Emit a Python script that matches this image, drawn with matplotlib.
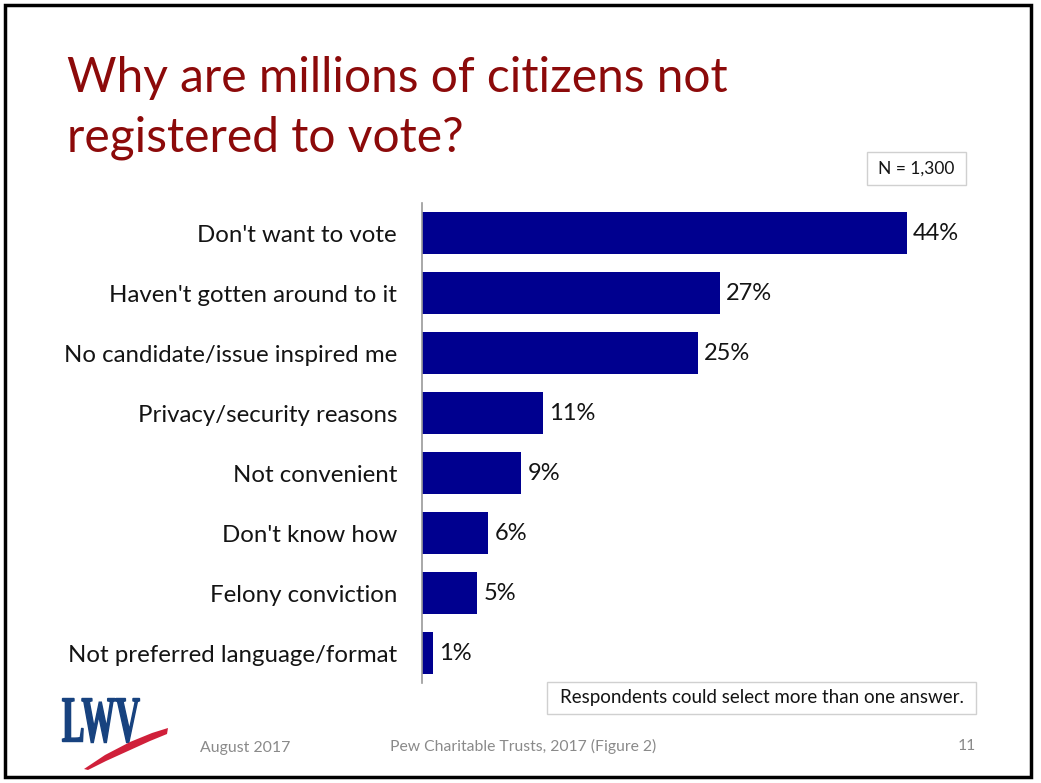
import matplotlib
matplotlib.use("Agg")
import matplotlib.pyplot as plt
from matplotlib.patches import Rectangle, Polygon, PathPatch
from matplotlib.textpath import TextPath
from matplotlib.font_manager import FontProperties
from matplotlib.transforms import Affine2D, IdentityTransform

categories = [
    "Don't want to vote",
    "Haven't gotten around to it",
    "No candidate/issue inspired me",
    "Privacy/security reasons",
    "Not convenient",
    "Don't know how",
    "Felony conviction",
    "Not preferred language/format",
]
values = [44, 27, 25, 11, 9, 6, 5, 1]

title_lines = ["Why are millions of citizens not", "registered to vote?"]
sample_note = "N = 1,300"
multi_note = "Respondents could select more than one answer."
footer_date = "August 2017"
footer_source = "Pew Charitable Trusts, 2017 (Figure 2)"
page_number = "11"

W, H = 1041, 783
FONT = "Lato"
BAR_COLOR = "#00008f"
TITLE_COLOR = "#8c0a0a"
FOOT_COLOR = "#8a8a8a"
TEXT_COLOR = "#141414"
LOGO_BLUE = "#17427f"

fig = plt.figure(figsize=(W / 100, H / 100), dpi=100)
fig.patch.set_facecolor("white")


def fx(px):
    return px / W


def fy(py):
    return 1 - py / H


# slide frame
fig.add_artist(Rectangle((fx(5), fy(777)), fx(1031) - fx(5), fy(5) - fy(777),
                         transform=fig.transFigure, fill=False,
                         edgecolor="black", linewidth=2.5))

# title, one line per baseline
for line, base in zip(title_lines, [92, 152]):
    fig.text(fx(67), fy(base), line, color=TITLE_COLOR, fontsize=34.5,
             family=FONT, va="baseline", ha="left")

# bar chart
px_per_unit = 11.02
ax_left, ax_right = 422, 1000
ax_top, ax_bottom = 203, 683
ax = fig.add_axes([fx(ax_left), fy(ax_bottom), fx(ax_right) - fx(ax_left),
                   fy(ax_top) - fy(ax_bottom)])
n = len(categories)
ypos = list(range(n))
ax.barh(ypos, values, height=0.7, color=BAR_COLOR)
ax.set_xlim(0, (ax_right - ax_left) / px_per_unit)
ax.set_ylim(n - 0.5, -0.5)
ax.set_yticks(ypos)
ax.set_yticklabels(categories, fontsize=17.3, family=FONT, color=TEXT_COLOR)
ax.tick_params(axis="y", length=0, pad=18)
ax.set_xticks([])
for s in ("top", "right", "bottom"):
    ax.spines[s].set_visible(False)
ax.spines["left"].set_color("#9a9a9a")
ax.spines["left"].set_linewidth(1.2)
ax.patch.set_alpha(0)
for y, v in zip(ypos, values):
    ax.annotate(f"{v}%", (v, y), xytext=(4.5, 0), textcoords="offset points",
                va="center", ha="left", fontsize=17, family=FONT,
                color=TEXT_COLOR)


# note boxes
def note_box(x0, y0, x1, y1, text, size):
    fig.add_artist(Rectangle((fx(x0), fy(y1)), fx(x1) - fx(x0), fy(y0) - fy(y1),
                             transform=fig.transFigure, facecolor="white",
                             edgecolor="#d0d0d0", linewidth=1))
    fig.text((fx(x0) + fx(x1)) / 2, (fy(y0) + fy(y1)) / 2, text,
             fontsize=size, family=FONT, color=TEXT_COLOR,
             ha="center", va="center")


note_box(867, 152, 966, 185, sample_note, 12.5)
note_box(547, 682, 976, 714, multi_note, 13.5)

# footer
fig.text(fx(200), fy(748), footer_date, fontsize=11.4, family=FONT,
         color=FOOT_COLOR, ha="left", va="center")
fig.text(fx(390), fy(746), footer_source, fontsize=11.3, family=FONT,
         color=FOOT_COLOR, ha="left", va="center")
fig.text(fx(976), fy(746), page_number, fontsize=11.3, family=FONT,
         color=FOOT_COLOR, ha="right", va="center")

# logo: condensed serif letters plus a red swoosh (pixel coordinates)
logo_path = TextPath((0, 0), "LWV", size=100,
                     prop=FontProperties(family="Liberation Serif",
                                         weight="bold"))
ext = logo_path.get_extents()
sx = 77 / ext.width
sy = 44 / ext.height
logo_tf = (Affine2D().translate(-ext.x0, -ext.y0).scale(sx, sy)
           .translate(62.5, H - 742.5))
fig.add_artist(PathPatch(logo_path, transform=logo_tf + IdentityTransform(),
                         facecolor=LOGO_BLUE, edgecolor=LOGO_BLUE,
                         linewidth=1.0))
swoosh_px = [(84, 769), (105, 755), (130, 742), (152, 733), (168, 728),
             (167, 734), (150, 741), (128, 751), (106, 761), (88, 770)]
fig.add_artist(Polygon([(fx(x), fy(y)) for x, y in swoosh_px], closed=True,
                       transform=fig.transFigure, facecolor="#d0203a",
                       edgecolor="none"))

fig.savefig("out.png", dpi=100, facecolor="white")
